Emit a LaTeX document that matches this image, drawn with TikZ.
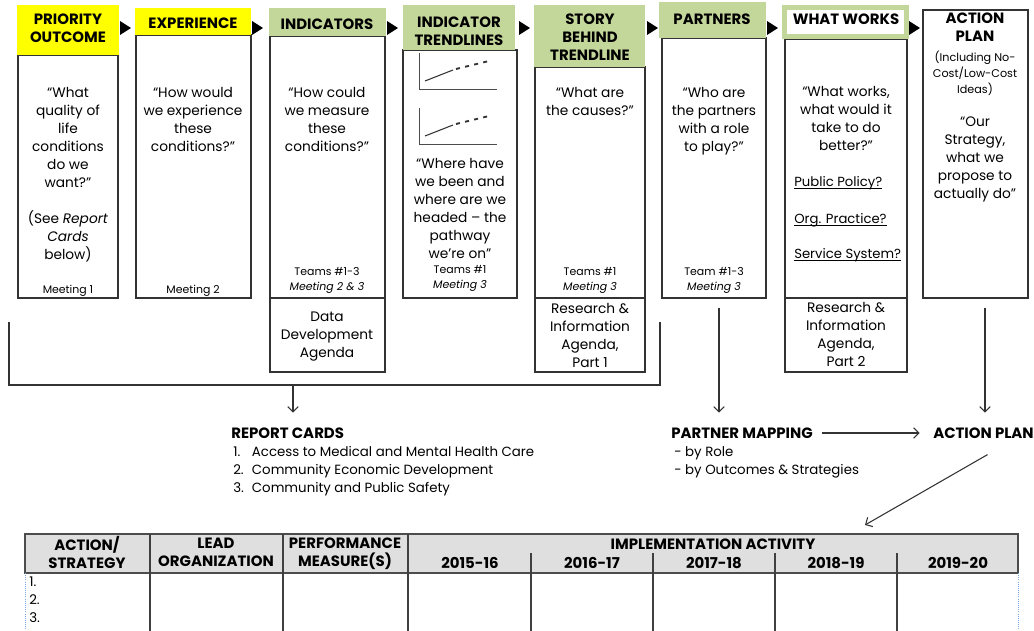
\documentclass[tikz,border=0pt]{standalone}
\usepackage{fontspec}
\setmainfont{Poppins}
\usetikzlibrary{arrows.meta, positioning, fit}

\definecolor{hiyellow}{RGB}{255,255,0}
\definecolor{sage}{RGB}{196,215,155}
\definecolor{hdrgray}{RGB}{223,223,223}
\definecolor{gridblue}{RGB}{120,170,230}

\newcommand{\askfont}{\fontsize{10.3}{13.5}\selectfont}
\newcommand{\headfont}{\fontsize{11.2}{13.5}\selectfont\bfseries}
\newcommand{\meetfont}{\fontsize{8.2}{11.5}\selectfont}
\newcommand{\labfont}{\fontsize{11.2}{13.5}\selectfont\bfseries}
\newcommand{\listfont}{\fontsize{10}{13.5}\selectfont}
\newcommand{\tabfont}{\fontsize{11.2}{13.5}\selectfont\bfseries}

\begin{document}
\begin{tikzpicture}[
    x=0.75pt, y=-0.75pt,
    colbox/.style={
        draw=black!80,
        line width=0.9pt,
        inner sep=0pt
    },
    hdr/.style={
        inner sep=0pt,
        font=\headfont,
        align=center
    },
    hdryel/.style={inner sep=0pt, fill=hiyellow},
    hdrgrn/.style={inner sep=0pt, fill=sage},
    ask/.style={
        font=\askfont,
        align=center,
        inner sep=0pt,
        anchor=north
    },
    meet/.style={
        font=\meetfont,
        align=center,
        inner sep=0pt,
        anchor=south
    },
    lever/.style={font=\fontsize{9.9}{13.5}\selectfont, inner sep=0pt, anchor=north west},
    trend/.style={line width=0.8pt, black!80},
    result/.style={font=\labfont, inner sep=0pt, anchor=west},
    items/.style={font=\listfont, align=left, inner sep=0pt, anchor=north west},
    flow/.style={
        -{Straight Barb[length=4pt,width=8pt]},
        line width=0.8pt,
        black!80
    },
    tline/.style={draw=black!75, line width=0.9pt},
    thd/.style={font=\tabfont, align=center, inner sep=0pt},
    gridln/.style={gridblue, densely dotted, line width=0.6pt}
]

\fill[white] (0,0) rectangle (1034,631);
\useasboundingbox (0,0) rectangle (1034,631);

% Columnas (cuerpo)
\node[colbox, fit={(18,55)(118,298)}] (body1) {};
\node[colbox, fit={(136,35)(251,298)}] (body2) {};
\node[colbox, fit={(270,36)(385,298)}] (body3) {};
\node[colbox, fit={(270,298)(385,372)}] (agenda3) {};
\node[colbox, fit={(403,50)(517,298)}] (body4) {};
\node[colbox, fit={(535,67)(645,298)}] (body5) {};
\node[colbox, fit={(535,298)(645,372)}] (agenda5) {};
\node[colbox, fit={(662,38)(766,298)}] (body6) {};
\node[colbox, fit={(785,39)(907,298)}] (body7) {};
\node[colbox, fit={(785,298)(907,372)}] (agenda7) {};
\node[colbox, fit={(923,10)(1028,298)}] (body8) {};

% Encabezados
\node[hdryel, fit={(17,5)(119,55)}] (head1) {};
\node[hdryel, fit={(135,8)(251,35)}] (head2) {};
\node[hdrgrn, fit={(269,8)(386,36)}] (head3) {};
\node[hdrgrn, fit={(403,5)(515,50)}] (head4) {};
\node[hdrgrn, fit={(534,5)(645,67)}] (head5) {};
\node[hdrgrn, fit={(659,2)(766,38)}] (head6) {};
\node[inner sep=0pt, fill=white, draw=sage, line width=3.75pt,
      fit={(784.5,7.5)(906.5,36.5)}] (head7) {};

\node[hdr] (title1) at (68,28) {PRIORITY\\OUTCOME};
\node[hdr] (title2) at (193,23) {EXPERIENCE};
\node[hdr] (title3) at (327,24) {INDICATORS};
\node[hdr] (title4) at (459,31) {INDICATOR\\TRENDLINES};
\node[hdr] (title5) at (590,37.5) {STORY\\BEHIND\\TRENDLINE};
\node[hdr] (title6) at (712,19) {PARTNERS};
\node[hdr] (title7) at (846,19) {WHAT WORKS};
\node[hdr, anchor=north] (title8) at (975,13) {ACTION\\PLAN};

% Flechas entre encabezados
\foreach \x in {120,252,387,519,647,767,909}
    \fill (\x,21) -- ++(11,7) -- ++(-11,7) -- cycle;

% Preguntas
\node[ask] (ask1) at (68,87)
    {“What\\quality of\\life\\conditions\\do we\\want?”\\[13.5pt](See \textit{Report}\\\textit{Cards}\\below)};
\node[meet] (meet1) at (68,297) {Meeting 1};

\node[ask] (ask2) at (193,87) {“How would\\we experience\\these\\conditions?”};
\node[meet] (meet2) at (193,297) {Meeting 2};

\node[ask] (ask3) at (327,87) {“How could\\we measure\\these\\conditions?”};
\node[meet] (meet3) at (327,294) {Teams \#1-3\\\textit{Meeting 2 \& 3}};
\node[ask] (agtxt3) at (327,312) {Data\\Development\\Agenda};

% Tendencias
\foreach \dy in {0,55} {
    \draw[black!70, line width=0.7pt] (419,53+\dy) -- (419,89+\dy) -- (497,89+\dy);
    \draw[trend] (425,81+\dy) -- (453,70+\dy);
    \draw[trend, line width=1.4pt, dash pattern=on 3pt off 4pt] (456,69+\dy) -- (489,61+\dy);
}
\node[ask] (ask4) at (460,158)
    {“Where have\\we been and\\where are we\\headed – the\\pathway\\we’re on”};
\node[meet] (meet4) at (460,292) {Teams \#1\\\textit{Meeting 3}};

\node[ask] (ask5) at (590,87) {“What are\\the causes?”};
\node[meet] (meet5) at (590,294) {Teams \#1\\\textit{Meeting 3}};
\node[ask] (agtxt5) at (590,303) {Research \&\\Information\\Agenda,\\Part 1};

\node[ask] (ask6) at (714,87) {“Who are\\the partners\\with a role\\to play?”};
\node[meet] (meet6) at (714,294) {Team \#1-3\\\textit{Meeting 3}};

\node[ask] (ask7) at (846,86) {“What works,\\what would it\\take to do\\better?”};
\node[lever] (lever1) at (794,186) {\underline{\smash{Public Policy?}}};
\node[lever] (lever2) at (794,223) {\underline{\smash{Org. Practice?}}};
\node[lever] (lever3) at (794,258) {\underline{\smash{Service System?}}};
\node[ask] (agtxt7) at (846,302) {Research \&\\Information\\Agenda,\\Part 2};

\node[meet, anchor=north, font=\fontsize{8.4}{12}\selectfont] (note8) at (975,51)
    {(Including No-\\Cost/Low-Cost\\Ideas)};
\node[ask] (ask8) at (975,117) {“Our\\Strategy,\\what we\\propose to\\actually do”};

% Resultados
\node[result] (rcards) at (231,433) {REPORT CARDS};
\node[items] (rclist) at (233,446)
    {\hbox to 14pt{1.\hfill}Access to Medical and Mental Health Care\\
     \hbox to 14pt{2.\hfill}Community Economic Development\\
     \hbox to 14pt{3.\hfill}Community and Public Safety};
\node[result] (pmap) at (671,433) {PARTNER MAPPING};
\node[items] (pmlist) at (674,446) {- by Role\\- by Outcomes \& Strategies};
\node[result] (apl) at (933,433) {ACTION PLAN};

% Conectores
\coordinate (brL) at (9,322);
\coordinate (brR) at (660,322);
\coordinate (brM) at (293,385);
\draw[black!80, line width=0.8pt] (brL) |- (brM) -| (brR);
\draw[flow, shorten >=11pt] (brM) -- (brM |- rcards.north);

\coordinate (ptop) at (719,308);
\draw[flow, shorten >=11pt] (ptop) -- (ptop |- pmap.north);
\coordinate (atop) at (985,308);
\draw[flow, shorten >=11pt] (atop) -- (atop |- apl.north);
\draw[flow, shorten <=7pt, shorten >=10pt] (pmap.east) -- (apl.west);
\coordinate (tabin) at (865,525);
\draw[flow] ([xshift=3pt,yshift=-12pt]apl.south) -- (tabin);

% Tabla
\node[fit={(25,534)(1018,573)}, fill=hdrgray, draw=black!70,
      line width=0.9pt, inner sep=0pt] (thead) {};
\foreach \x in {150,283,408}
    \draw[tline] (\x,534) -- (\x,631);
\foreach \x in {531,653,775,897}
    \draw[tline] (\x,553) -- (\x,631);
\draw[gridln] (25,573) -- (25,631);
\draw[gridln] (1018,573) -- (1018,631);

\node[thd] (tact) at (87,552) {ACTION/\\STRATEGY};
\node[thd] (tlead) at (216,552) {LEAD\\ORGANIZATION};
\node[thd] (tperf) at (345,554) {PERFORMANCE\\MEASURE(S)};
\node[thd] (timpl) at (713,544) {IMPLEMENTATION ACTIVITY};
\foreach \yr/\x in {2015-16/470, 2016-17/592, 2017-18/714, 2018-19/836, 2019-20/958}
    \node[thd] at (\x,563) {\yr};
\node[items, font=\fontsize{10}{13.5}\selectfont] (tnum) at (29,577) {1.\\2.\\3.};

\end{tikzpicture}
\end{document}
